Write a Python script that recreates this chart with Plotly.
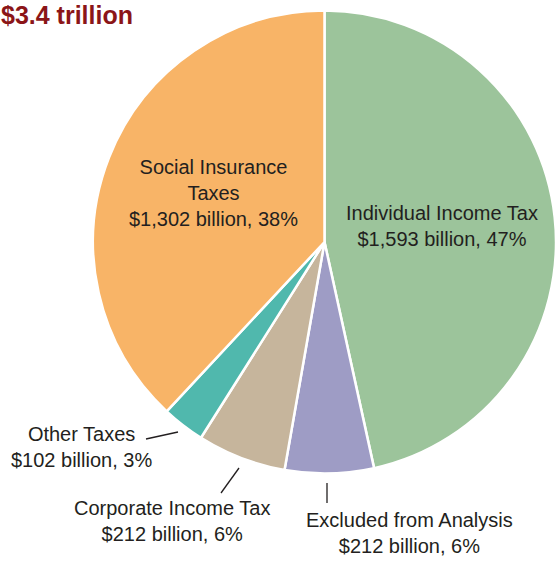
import plotly.graph_objects as go

W, H = 556, 561

# Revenue sources (billions of dollars), clockwise from 12 o'clock
categories = ["Individual Income Tax", "Excluded from Analysis", "Corporate Income Tax",
              "Other Taxes", "Social Insurance Taxes"]
label_lines = ["Individual Income Tax", "Excluded from Analysis", "Corporate Income Tax",
               "Other Taxes", "Social Insurance<br>Taxes"]
values = [1593, 212, 212, 102, 1302]
colors = ["#9cc49b", "#9e9cc5", "#c6b59c", "#50b8ad", "#f8b467"]

total = sum(values)
FONT_FAMILY = "Liberation Sans, Arial, sans-serif"
LABEL_FONT = dict(family=FONT_FAMILY, size=20, color="#231f20")


def px(x, y):
    """Pixel position (from top-left) to paper coordinates."""
    return x / W, 1 - y / H


fig = go.Figure(go.Pie(
    labels=categories,
    values=values,
    sort=False,
    direction="clockwise",
    rotation=0,
    marker=dict(colors=colors, line=dict(color="white", width=2.5)),
    textinfo="none",
    hoverinfo="label+value+percent",
    showlegend=False,
    domain=dict(x=[93 / W, 1.0], y=[85 / H, 553 / H]),
))

# label centre positions (px) for each slice
label_pos = [(442, 226), (409, 533), (172, 521), (81, 447), (213, 193)]
annotations = []
for name, val, (lx, ly) in zip(label_lines, values, label_pos):
    pct = round(100 * val / total)
    x, y = px(lx, ly)
    annotations.append(dict(
        x=x, y=y, xref="paper", yref="paper", xanchor="center", yanchor="middle",
        text=f"{name}<br>${val:,} billion, {pct}%", showarrow=False,
        font=LABEL_FONT, align="center",
    ))

annotations.append(dict(
    x=0, y=1, xref="paper", yref="paper", xanchor="left", yanchor="top",
    text=f"<b>${total / 1000:.1f} trillion</b>", showarrow=False,
    font=dict(family=FONT_FAMILY, size=25, color="#8b1518"),
    borderpad=0,
))

# leader lines for the small slices
leaders = [((146, 439), (178, 432)), ((221, 493), (239, 468)), ((327, 483), (327, 503))]
shapes = []
for (x0, y0), (x1, y1) in leaders:
    a, b = px(x0, y0)
    c, d = px(x1, y1)
    shapes.append(dict(type="line", xref="paper", yref="paper", x0=a, y0=b, x1=c, y1=d,
                       line=dict(color="#231f20", width=1.3)))

fig.update_layout(
    width=W, height=H,
    margin=dict(l=0, r=0, t=0, b=0),
    paper_bgcolor="white", plot_bgcolor="white",
    annotations=annotations, shapes=shapes,
)

fig.write_html("out.html")
